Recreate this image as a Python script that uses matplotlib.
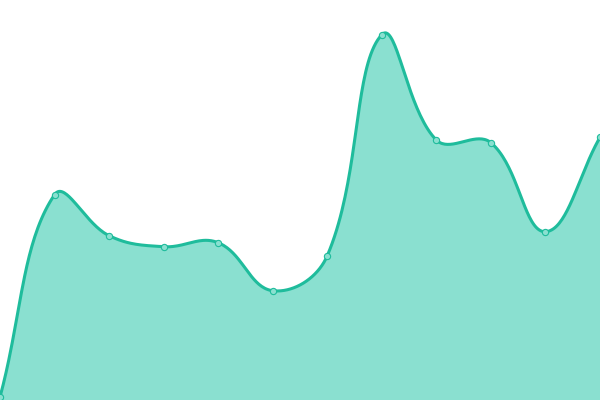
import matplotlib
matplotlib.use('Agg')
import matplotlib.pyplot as plt
import numpy as np

# values (chart area 0..400 units tall)
labels = list(range(12))
values = [3, 205.3, 164.3, 153.3, 157.3, 109.3, 144.3, 365.3, 260, 257.3, 168.3, 262.7]

line_color = '#1fbc9c'
fill_color = '#8ae0d0'
tension = 0.4


def spline_points(xs, ys, t, steps=40):
    # Chart.js style cubic interpolation
    n = len(xs)
    pts = np.column_stack([xs, ys]).astype(float)
    cp_prev = pts.copy()
    cp_next = pts.copy()
    for i in range(n):
        prev = pts[max(i - 1, 0)]
        cur = pts[i]
        nxt = pts[min(i + 1, n - 1)]
        d01 = np.hypot(*(cur - prev))
        d12 = np.hypot(*(nxt - cur))
        tot = d01 + d12
        s01 = d01 / tot if tot else 0
        s12 = d12 / tot if tot else 0
        cp_prev[i] = cur - t * s01 * (nxt - prev)
        cp_next[i] = cur + t * s12 * (nxt - prev)
    out = []
    u = np.linspace(0, 1, steps)[:, None]
    for i in range(n - 1):
        p0, p1, p2, p3 = pts[i], cp_next[i], cp_prev[i + 1], pts[i + 1]
        seg = ((1 - u) ** 3) * p0 + 3 * ((1 - u) ** 2) * u * p1 + 3 * (1 - u) * u ** 2 * p2 + u ** 3 * p3
        out.append(seg)
    out = np.vstack(out)
    return out[:, 0], out[:, 1]


fig = plt.figure(figsize=(6, 4), dpi=100)
ax = fig.add_axes([0, 0, 1, 1])
ax.set_xlim(0, 11)
ax.set_ylim(0, 400)
ax.axis('off')

# work in pixel-like space so tension behaves as in the original
xs = np.array(labels) * 600 / 11
sx, sy = spline_points(xs, np.array(values), tension)
sx = sx * 11 / 600

ax.fill_between(sx, sy, 0, color=fill_color, lw=0)
ax.plot(sx, sy, color=line_color, lw=2.2, solid_capstyle='round')
ax.plot(labels, values, 'o', ms=4.5, mfc=fill_color, mec=line_color, mew=0.8)

fig.savefig('out.png', dpi=100)
